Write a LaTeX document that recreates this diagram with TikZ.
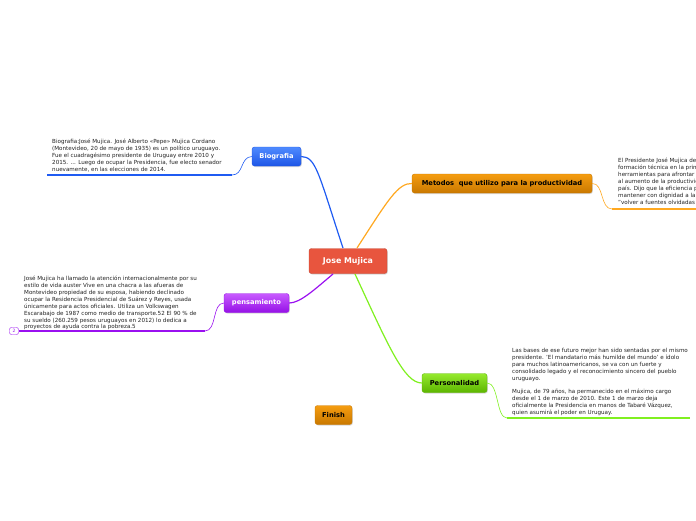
\documentclass[tikz,border=0pt]{standalone}
\usepackage{fontspec}
\setmainfont{DejaVu Sans}
\usetikzlibrary{positioning, shadows}
\definecolor{centralFill}{HTML}{E8553E}
\definecolor{bioTop}{HTML}{4F8BFF}
\definecolor{bioBot}{HTML}{1D55E6}
\definecolor{bioLine}{HTML}{1F5BF2}
\definecolor{metTop}{HTML}{F59D10}
\definecolor{metBot}{HTML}{C97800}
\definecolor{metLine}{HTML}{FFA820}
\definecolor{penTop}{HTML}{C85BFF}
\definecolor{penBot}{HTML}{9510E6}
\definecolor{penLine}{HTML}{9A10F0}
\definecolor{perTop}{HTML}{95EA2E}
\definecolor{perBot}{HTML}{5DB500}
\definecolor{perLine}{HTML}{80F020}
\definecolor{noteGray}{HTML}{222222}

\begin{document}
\begin{tikzpicture}[
    x=1pt, y=-1pt,
    box/.style={rounded corners=2.5pt, minimum height=19pt, inner xsep=5pt, inner ysep=0pt,
      font=\fontsize{6.7}{7}\selectfont\bfseries,
      drop shadow={opacity=0.3, shadow xshift=0.8pt, shadow yshift=-1pt}},
    central/.style={box, fill=centralFill, draw=centralFill!85!black, text=white,
      minimum width=78pt, minimum height=25pt, font=\fontsize{7.9}{9}\selectfont\bfseries},
    bluebox/.style={box, top color=bioTop, bottom color=bioBot, draw=bioBot, text=white},
    orangebox/.style={box, top color=metTop, bottom color=metBot, draw=metBot, text=black},
    purplebox/.style={box, top color=penTop, bottom color=penBot, draw=penBot, text=white},
    greenbox/.style={box, top color=perTop, bottom color=perBot, draw=perBot, text=black},
    note/.style={anchor=north west, align=left, inner sep=0pt, text=noteGray,
      font=\fontsize{5.6}{6.9}\selectfont},
    uline/.style={line width=2pt},
    link/.style={line width=0.6pt},
    branch/.style={line width=1.2pt}
  ]
    \useasboundingbox (0,0) rectangle (696,520);
    \clip (0,0) rectangle (696,520);

    \node[central] (jm) at (348,261) {Jose Mujica};
    \node[bluebox, minimum width=49pt] (bio) at (276.5,156.5) {Biografia};
    \node[orangebox, minimum width=180pt] (met) at (502,183.5) {Metodos\ \ que utilizo para la productividad};
    \node[purplebox, minimum width=65pt] (pen) at (256.5,303) {pensamiento};
    \node[greenbox, minimum width=65pt] (per) at (454.5,383) {Personalidad};
    \node[orangebox, minimum width=37pt] (fin) at (333.5,415) {Finish};

    \node[note] (biotext) at (52,139) {Biografia:José Mujica. José Alberto «Pepe» Mujica Cordano\\
      (Montevideo, 20 de mayo de 1935) es un político uruguayo.\\
      Fue el cuadragésimo presidente de Uruguay entre 2010 y\\
      2015. ... Luego de ocupar la Presidencia, fue electo senador\\
      nuevamente, en las elecciones de 2014.};
    \node[note] (mettext) at (618,158) {El Presidente José Mujica de\\
      formación técnica en la prim\\
      herramientas para afrontar d\\
      al aumento de la productivid\\
      país. Dijo que la eficiencia p\\
      mantener con dignidad a la p\\
      "volver a fuentes olvidadas s};
    \node[note] (pentext) at (24,276) {José Mujica ha llamado la atención internacionalmente por su\\
      estilo de vida auster Vive en una chacra a las afueras de\\
      Montevideo propiedad de su esposa, habiendo declinado\\
      ocupar la Residencia Presidencial de Suárez y Reyes, usada\\
      únicamente para actos oficiales. Utiliza un Volkswagen\\
      Escarabajo de 1987 como medio de transporte.52 El 90 \% de\\
      su sueldo (260.259 pesos uruguayos en 2012) lo dedica a\\
      proyectos de ayuda contra la pobreza.5};
    \node[note] (pertext) at (512,348) {Las bases de ese futuro mejor han sido sentadas por el mismo\\
      presidente. 'El mandatario más humilde del mundo' e ídolo\\
      para muchos latinoamericanos, se va con un fuerte y\\
      consolidado legado y el reconocimiento sincero del pueblo\\
      uruguayo.\\[6.9pt]
      Mujica, de 79 años, ha permanecido en el máximo cargo\\
      desde el 1 de marzo de 2010. Este 1 de marzo deja\\
      oficialmente la Presidencia en manos de Tabaré Vázquez,\\
      quien asumirá el poder en Uruguay.};
    \node[draw=penLine, fill=white, rounded corners=2pt, minimum width=9pt, minimum height=7pt,
      inner sep=0pt, text=penLine, font=\fontsize{4.5}{5}\selectfont] (badge) at (14,331) {2};

    \coordinate (bioL) at (47,175);
    \coordinate (bioR) at (232,175);
    \coordinate (metL) at (612,209);
    \coordinate (metR) at (700,209);
    \coordinate (penL) at (19,331);
    \coordinate (penR) at (205,331);
    \coordinate (perL) at (507,418);
    \coordinate (perR) at (690,418);
    \coordinate (jmBio) at (343,248);
    \coordinate (jmMet) at (357,248);
    \coordinate (jmPen) at (333,274);
    \coordinate (jmPer) at (355,274);

    \draw[branch, bioLine] (jmBio) .. controls (318,172) and (316,157) .. (bio.east);
    \draw[branch, metLine] (jmMet) .. controls (388,200) and (398,183) .. (met.west);
    \draw[branch, penLine] (jmPen) .. controls (314,290) and (300,303) .. (pen.east);
    \draw[branch, perLine] (jmPer) .. controls (388,345) and (404,383) .. (per.west);

    \draw[uline, bioLine] (bioL) -- (bioR);
    \draw[link, bioLine] (bioR) .. controls (244,175) and (240,157) .. (bio.west);
    \draw[uline, metLine] (metL) -- (metR);
    \draw[link, metLine] (met.east) .. controls (604,183) and (600,209) .. (metL);
    \draw[uline, penLine] (penL) -- (penR);
    \draw[link, penLine] (penR) .. controls (217,331) and (212,303) .. (pen.west);
    \draw[uline, perLine] (perL) -- (perR);
    \draw[link, perLine] (per.east) .. controls (499,383) and (496,418) .. (perL);
  \end{tikzpicture}
\end{document}
